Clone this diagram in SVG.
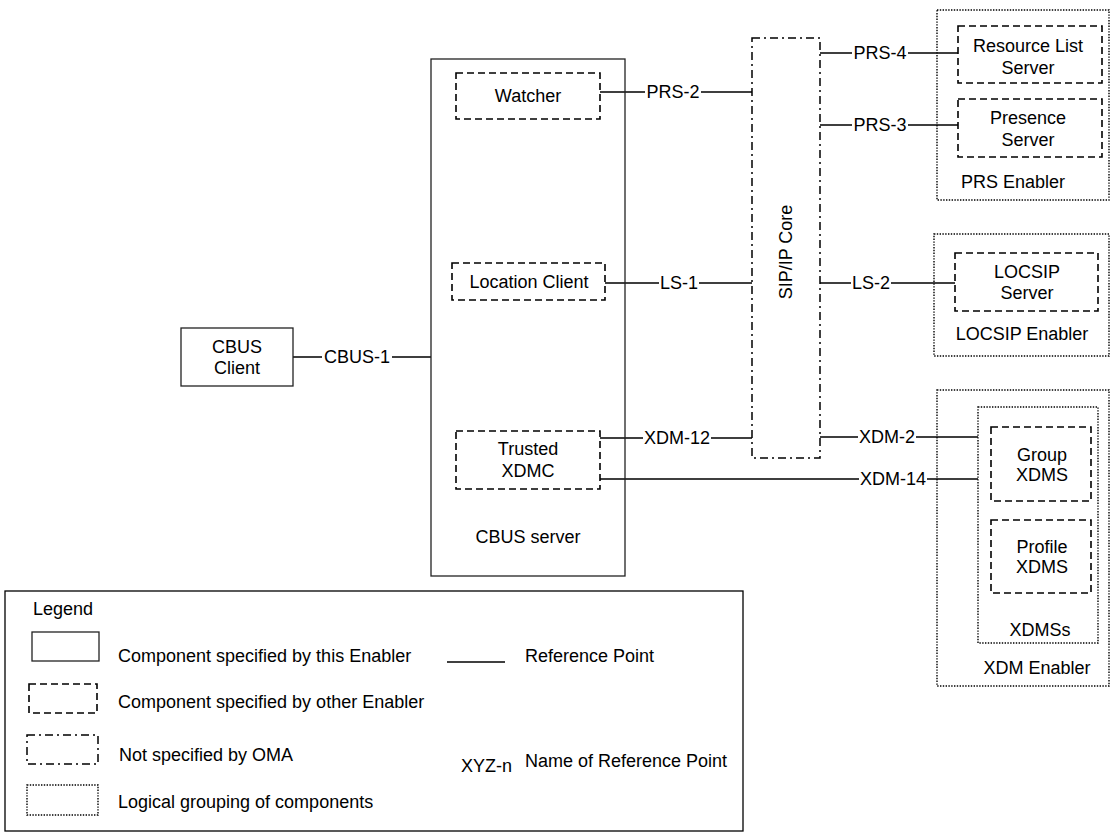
<svg xmlns="http://www.w3.org/2000/svg" width="1111" height="833" viewBox="0 0 1111 833">
<style>
text{font-family:"Liberation Sans",Arial,sans-serif;font-size:18px;fill:#000}
.c{text-anchor:middle}
.solid{fill:#fff;stroke:#222;stroke-width:1.3}
.dash{fill:#fff;stroke:#000;stroke-width:1.6;stroke-dasharray:7 4}
.dashdot{fill:#fff;stroke:#000;stroke-width:1.5;stroke-dasharray:8 4 2 4}
.dot{fill:none;stroke:#000;stroke-width:1.4;stroke-dasharray:1.4 1.4}
.ln{stroke:#000;stroke-width:1.3;fill:none}
</style>
<rect width="1111" height="833" fill="#fff"/>

<g id="prs-enabler"><rect class="dot" x="937" y="10" width="172" height="190"/><text class="c" x="1013" y="188">PRS Enabler</text></g>
<g id="locsip-enabler"><rect class="dot" x="934" y="234" width="175" height="122"/><text class="c" x="1022" y="340">LOCSIP Enabler</text></g>
<g id="xdm-enabler"><rect class="dot" x="937" y="390" width="172" height="296"/><text class="c" x="1037" y="674">XDM Enabler</text></g>
<g id="xdmss"><rect class="dot" x="978" y="407" width="120" height="236"/><text class="c" x="1040" y="636">XDMSs</text></g>

<g id="connectors">
<path class="ln" d="M293 357H322M392 357H431"/>
<path class="ln" d="M600 92H645M701 92H752"/>
<path class="ln" d="M605 283H659M699 283H752"/>
<path class="ln" d="M600 438H643M711 438H752"/>
<path class="ln" d="M600 479H859M927 479H978"/>
<path class="ln" d="M820 53H852M908 53H958"/>
<path class="ln" d="M820 125H852M908 125H958"/>
<path class="ln" d="M820 283H851M891 283H955"/>
<path class="ln" d="M820 437H858M916 437H978"/>
<text class="c" x="357" y="363">CBUS-1</text>
<text class="c" x="673" y="98">PRS-2</text>
<text class="c" x="679" y="289">LS-1</text>
<text class="c" x="677" y="444">XDM-12</text>
<text class="c" x="893" y="485">XDM-14</text>
<text class="c" x="880" y="59">PRS-4</text>
<text class="c" x="880" y="131">PRS-3</text>
<text class="c" x="871" y="289">LS-2</text>
<text class="c" x="887" y="443">XDM-2</text>
</g>

<g id="cbus-client"><rect class="solid" x="181" y="328" width="112" height="58"/><text class="c" x="237" y="353">CBUS</text><text class="c" x="237" y="374">Client</text></g>
<g id="cbus-server"><rect x="431" y="59" width="194" height="517" fill="none" stroke="#222" stroke-width="1.3"/><text class="c" x="528" y="543">CBUS server</text></g>
<g id="watcher"><rect class="dash" x="456" y="73" width="144" height="46"/><text class="c" x="528" y="102">Watcher</text></g>
<g id="location-client"><rect class="dash" x="452" y="263" width="153" height="37"/><text class="c" x="529" y="288">Location Client</text></g>
<g id="trusted-xdmc"><rect class="dash" x="456" y="431" width="144" height="58"/><text class="c" x="528" y="455">Trusted</text><text class="c" x="528" y="477">XDMC</text></g>
<g id="sip-ip-core"><rect class="dashdot" x="752" y="38" width="68" height="420"/><text class="c" transform="translate(792 252) rotate(-90)">SIP/IP Core</text></g>
<g id="resource-list-server"><rect class="dash" x="958" y="26" width="144" height="57"/><text class="c" x="1028" y="52">Resource List</text><text class="c" x="1028" y="74">Server</text></g>
<g id="presence-server"><rect class="dash" x="958" y="99" width="144" height="58"/><text class="c" x="1028" y="124">Presence</text><text class="c" x="1028" y="146">Server</text></g>
<g id="locsip-server"><rect class="dash" x="955" y="253" width="143" height="58"/><text class="c" x="1027" y="278">LOCSIP</text><text class="c" x="1027" y="299">Server</text></g>
<g id="group-xdms"><rect class="dash" x="991" y="427" width="100" height="74"/><text class="c" x="1042" y="461">Group</text><text class="c" x="1042" y="481">XDMS</text></g>
<g id="profile-xdms"><rect class="dash" x="991" y="520" width="100" height="73"/><text class="c" x="1042" y="553">Profile</text><text class="c" x="1042" y="573">XDMS</text></g>

<g id="legend">
<rect x="5" y="591" width="738" height="240" fill="none" stroke="#000" stroke-width="1.3"/>
<text class="c" x="63" y="615">Legend</text>
<rect class="solid" x="32" y="632" width="67" height="29"/>
<text x="118" y="662">Component specified by this Enabler</text>
<rect class="dash" x="29" y="684" width="68" height="29"/>
<text x="118" y="708">Component specified by other Enabler</text>
<rect class="dashdot" x="27" y="735" width="71" height="29"/>
<text x="119" y="761">Not specified by OMA</text>
<rect class="dot" x="27" y="785" width="71" height="30"/>
<text x="118" y="808">Logical grouping of components</text>
<line class="ln" x1="447" y1="662" x2="505" y2="662"/>
<text x="525" y="662">Reference Point</text>
<text x="461" y="772">XYZ-n</text>
<text x="525" y="767">Name of Reference Point</text>
</g>
</svg>
